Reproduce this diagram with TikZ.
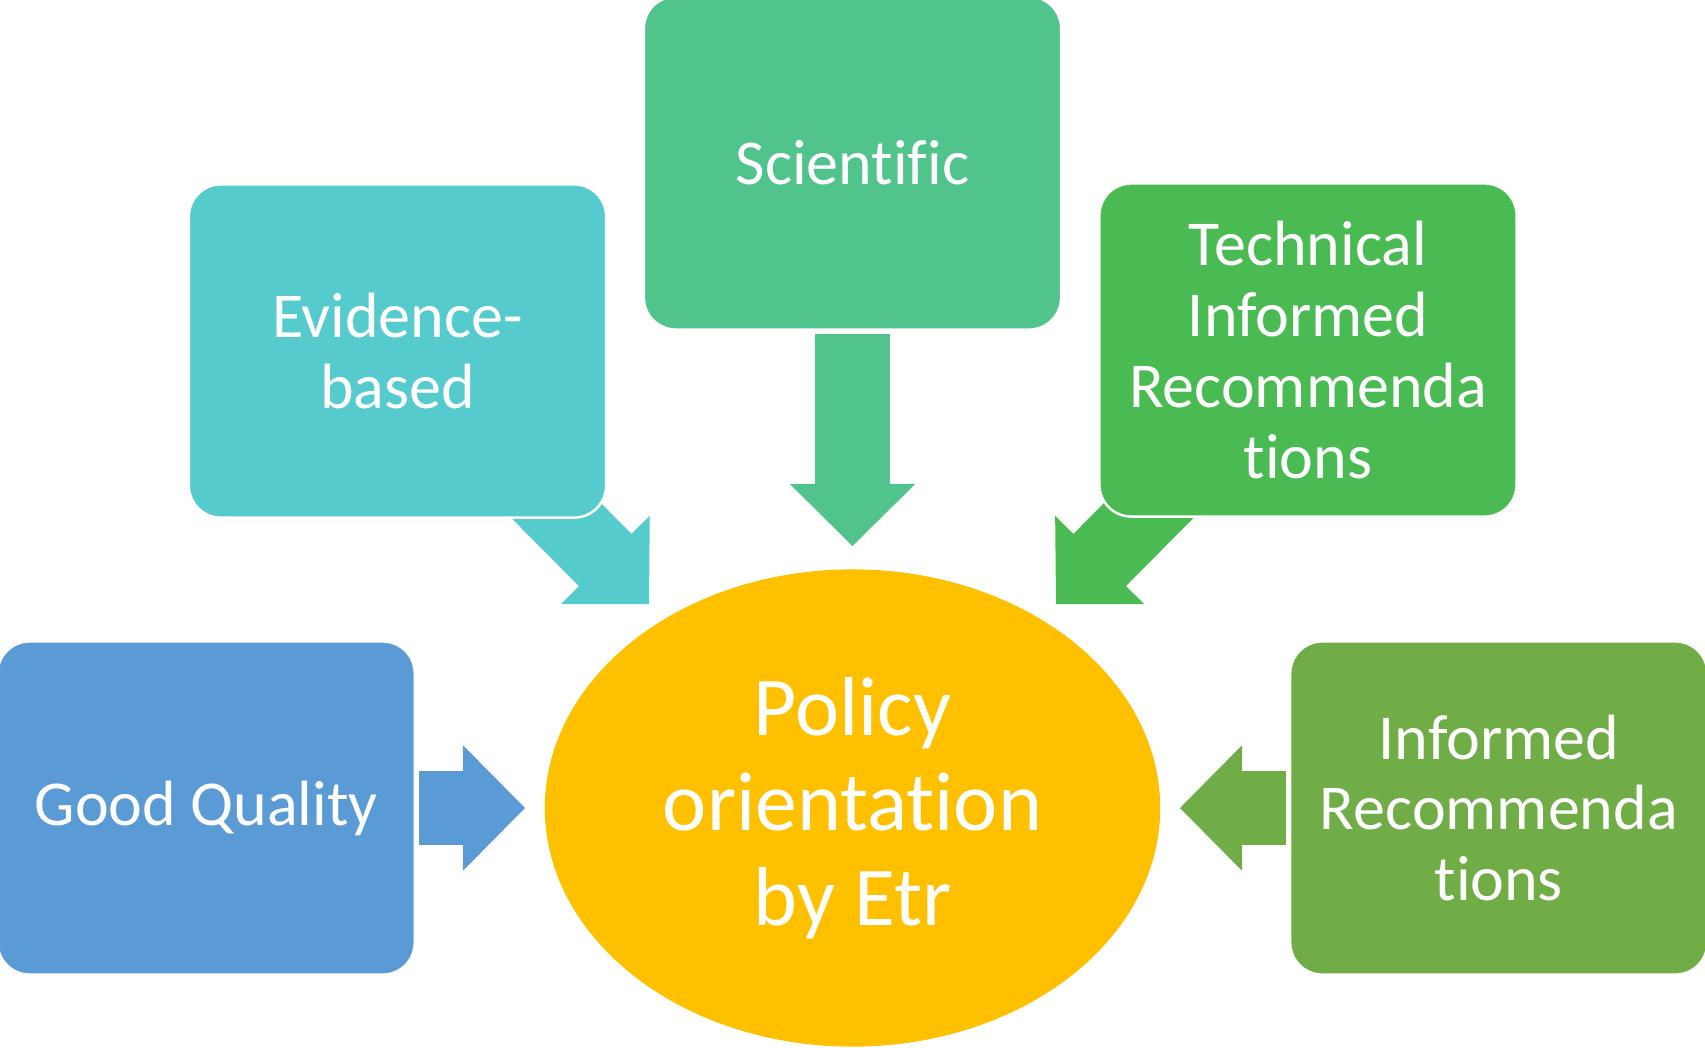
\documentclass[tikz,border=0pt]{standalone}
\usepackage{fontspec}
\setmainfont{Carlito}[Ligatures=NoCommon]
\usetikzlibrary{shapes.geometric, arrows.meta, positioning, backgrounds}
\definecolor{sciencegreen}{RGB}{80,196,140}
\definecolor{evidenceteal}{RGB}{85,203,205}
\definecolor{techgreen}{RGB}{73,187,82}
\definecolor{qualityblue}{RGB}{91,155,213}
\definecolor{informedgreen}{RGB}{112,173,71}
\definecolor{policyyellow}{RGB}{255,192,0}

\newcommand{\boxfont}{\fontsize{18.2pt}{20.1pt}\selectfont}
\newcommand{\hubfont}{\fontsize{23.8pt}{27pt}\selectfont}

\begin{document}
\begin{tikzpicture}[
    x=0.01cm, y=-0.01cm,
    box/.style={rectangle, rounded corners=0.32cm, draw=white, fill=#1, line width=0.025cm,
        minimum width=4.17cm, minimum height=3.33cm, inner sep=0pt, align=center,
        text=white, font=\boxfont},
    hub/.style={ellipse, fill=#1, minimum width=6.15cm, minimum height=4.77cm, inner sep=0pt,
        align=center, text=white, font=\hubfont},
    blockarr/.style={line width=0.74cm, color=#1,
        -{Triangle[width=1.25cm, length=0.62cm, line width=0.02cm]}},
]
\useasboundingbox (0,0) rectangle (1705,1048);

% Centre
\node[hub=policyyellow] (etr) at (852.5,808) {Policy\\orientation\\by Etr};

% Surrounding boxes
\node[box=sciencegreen] (sci) at (852.5,163) {Scientific};
\node[box=evidenceteal] (evid) at (397.5,351) {Evidence-\\based};
\node[box=techgreen] (tech) at (1308,350) {Technical\\Informed\\Recommenda\\tions};
\node[box=qualityblue, left=1.28cm of etr] (qual) {Good Quality};
\node[box=informedgreen, right=1.28cm of etr] (inform) {Informed\\Recommenda\\tions};

% Arrow tips
\coordinate (tipN) at (852.5,546);
\coordinate (tipNW) at (649,604);
\coordinate (tipNE) at (1056,604);
\coordinate (tipW) at (525,808);
\coordinate (tipE) at (1180,808);

% Block arrows, tails of the slanted ones hidden behind the boxes
\begin{scope}[on background layer]
\draw[blockarr=sciencegreen, shorten <=0.03cm] (sci.south) -- (tipN);
\draw[blockarr=evidenceteal] (evid.center) -- (tipNW);
\draw[blockarr=techgreen] (tech.center) -- (tipNE);
\draw[blockarr=qualityblue, shorten <=0.03cm] (qual.east) -- (tipW);
\draw[blockarr=informedgreen, shorten <=0.03cm] (inform.west) -- (tipE);
\end{scope}

\end{tikzpicture}
\end{document}
